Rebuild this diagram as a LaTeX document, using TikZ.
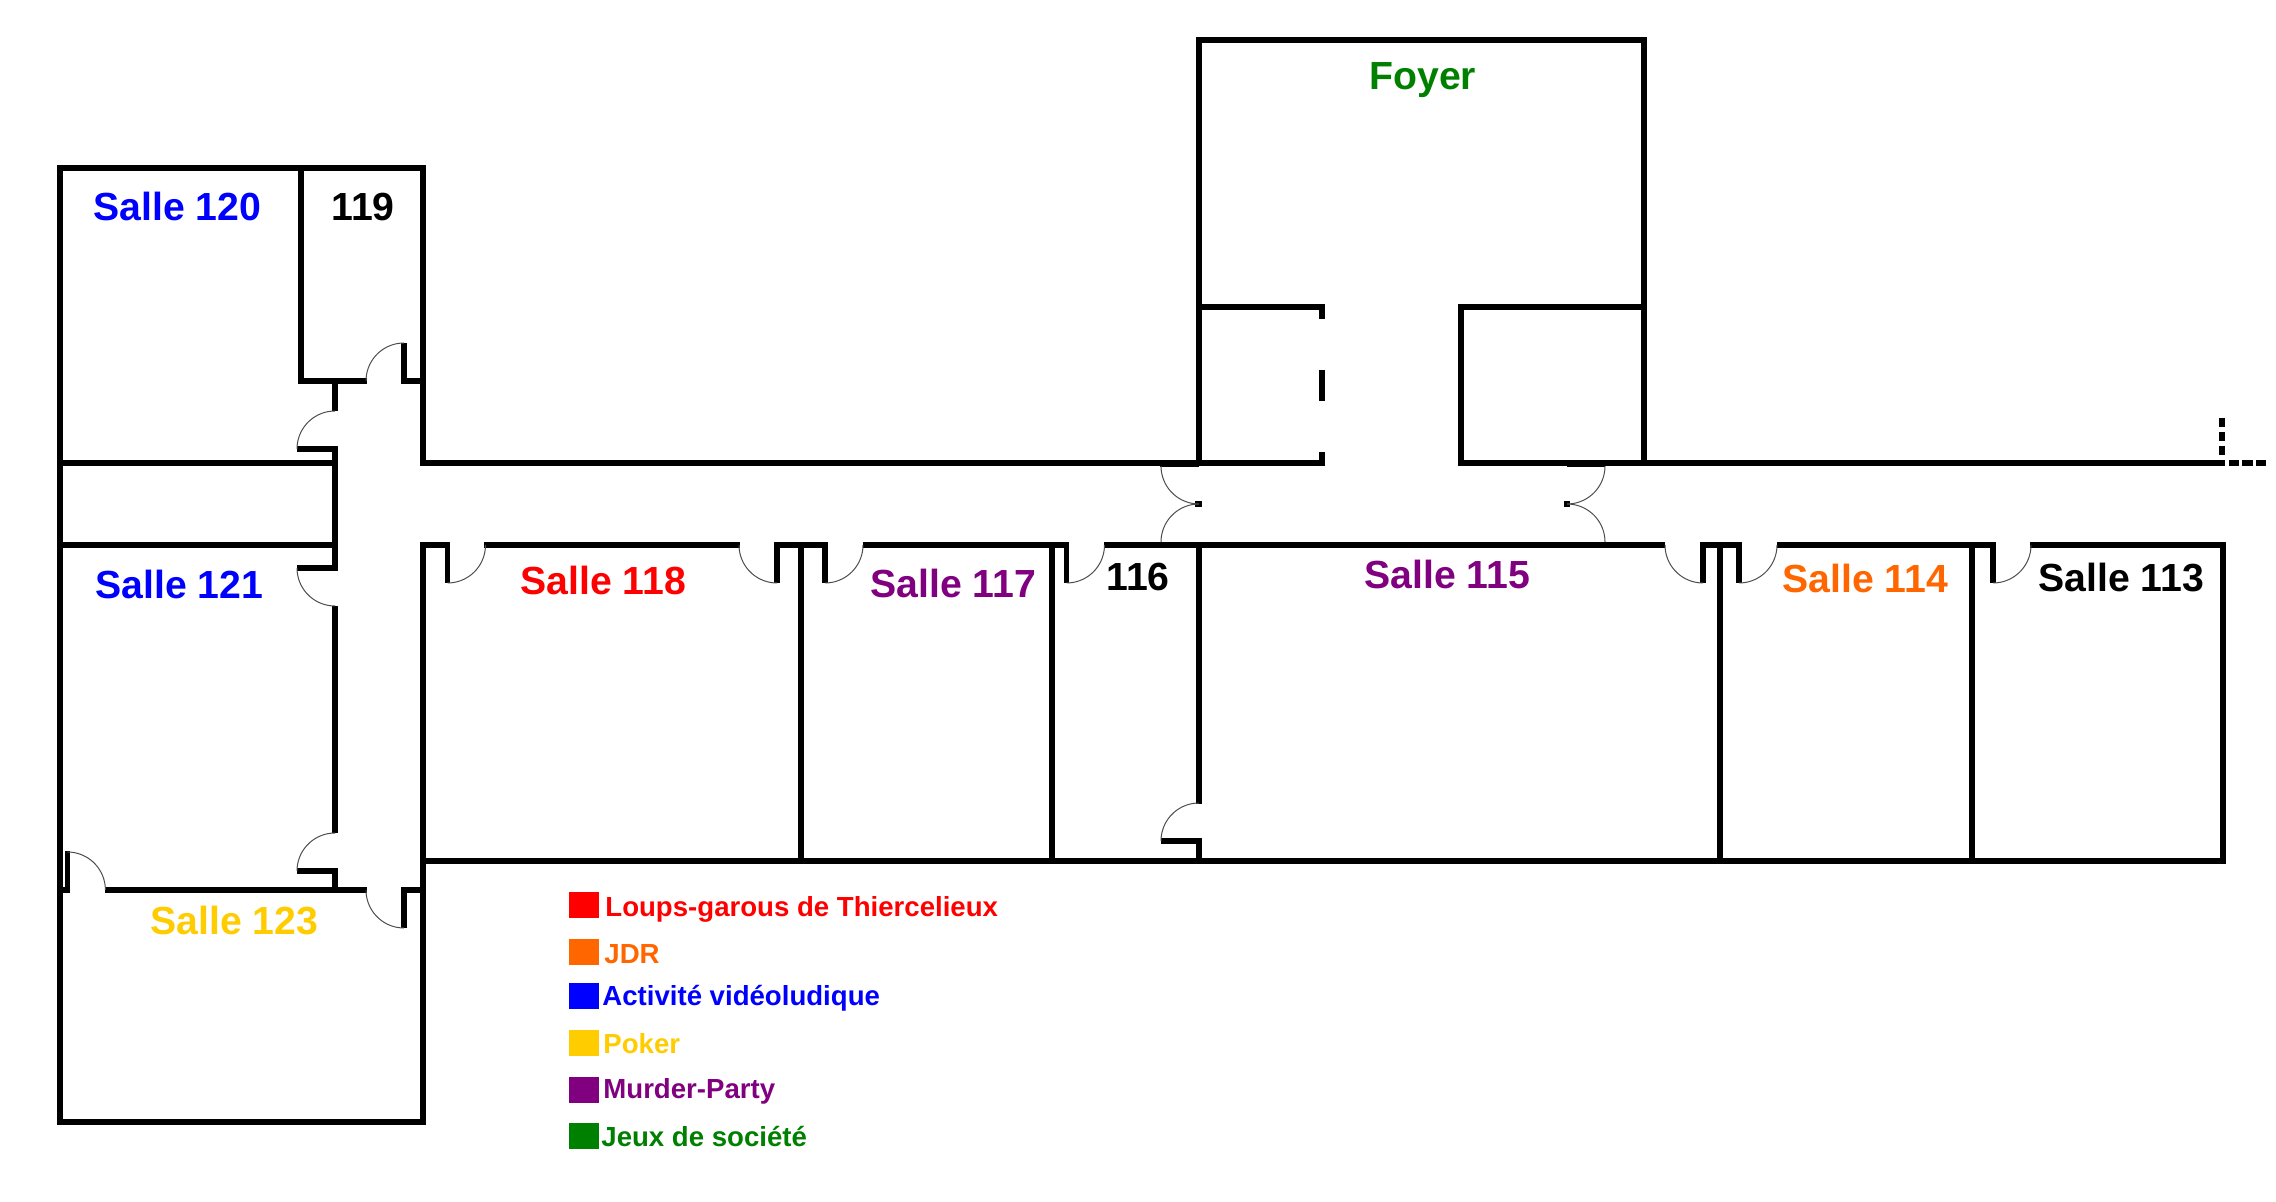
\documentclass[tikz,border=0pt]{standalone}
\usepackage{fontspec}
\setmainfont{Liberation Sans}
\definecolor{loups}{HTML}{FF0000}
\definecolor{jdr}{HTML}{FF6600}
\definecolor{video}{HTML}{0000FF}
\definecolor{poker}{HTML}{FFCC00}
\definecolor{murder}{HTML}{800080}
\definecolor{jeux}{HTML}{008000}
\tikzset{
  wall/.style={line width=2.75pt,line join=miter},
  swing/.style={line width=0.5pt,black!70,samples=24},
  roomname/.style={anchor=base west,inner sep=0pt,font=\bfseries\fontsize{19.6}{24}\selectfont},
  keyname/.style={anchor=base west,inner sep=0pt,font=\bfseries\fontsize{13.8}{16}\selectfont},
}

\begin{document}
\begin{tikzpicture}[x=0.5pt,y=-0.5pt]
\useasboundingbox (0,0) rectangle (2276,1202);
% door radius
\pgfmathsetmacro{\R}{38}

% outer walls
\draw[wall] (447.5,583) -- (447.5,545) -- (423,545) -- (423,1122) -- (60,1122) -- (60,168) -- (423,168) -- (423,463) -- (1322,463) -- (1322,452);
\draw[wall] (1199,463) -- (1199,40) -- (1644,40) -- (1644,463);
\draw[wall] (1644,307) -- (1461,307) -- (1461,463) -- (2225,463);

% rooms 119 to 123
\draw[wall] (366.6,381) -- (301,381) -- (301,168);
\draw[wall] (404,343) -- (404,381) -- (423,381);
\draw[wall] (335,381) -- (335,411);
\draw[wall] (297,449) -- (335,449) -- (335,568) -- (297,568);
\draw[wall] (335,606) -- (335,833);
\draw[wall] (297,871) -- (335,871) -- (335,890);
\draw[wall] (60,463) -- (335,463);
\draw[wall] (60,545) -- (335,545);
\draw[wall] (60,890) -- (67.4,890) -- (67.4,851);
\draw[wall] (105,890) -- (366.6,890);
\draw[wall] (404,928) -- (404,890) -- (423,890);

% corridor, south side
\draw[wall] (484,545) -- (740,545);
\draw[wall] (777,583) -- (777,545) -- (825,545) -- (825,583);
\draw[wall] (863,545) -- (1066.5,545) -- (1066.5,583);
\draw[wall] (1104,545) -- (1665,545);
\draw[wall] (1703,583) -- (1703,545) -- (1739,545) -- (1739,583);
\draw[wall] (1777,545) -- (1993,545) -- (1993,583);
\draw[wall] (2030,545) -- (2223,545) -- (2223,861) -- (423,861);
\foreach \xw in {801,1052,1720,1972}
  \draw[wall] (\xw,545) -- (\xw,861);
\draw[wall] (1199,545) -- (1199,804);
\draw[wall] (1161,841) -- (1199,841) -- (1199,861);

% hall
\draw[wall] (1199,307) -- (1322,307) -- (1322,319);
\draw[wall] (1322,370) -- (1322,401);

% double door frames
\foreach \xa/\xb in {1160/1199,1567/1605} {
  \draw[wall] (\xa,464) -- (\xb,464);
  \draw[wall] (\xa,544.5) -- (\xb,544.5);
}
\draw[wall] (1195,504) -- (1202,504);
\draw[wall] (1564,504) -- (1570,504);

% building goes on
\draw[wall,dash pattern=on 4.7pt off 2.3pt] (2222,418) -- (2222,457);
\draw[wall,dash pattern=on 5.2pt off 1.5pt] (2229,463) -- (2268,463);

% doors
\foreach \cx/\cy/\from/\to in {
  404/381/180/270, 335/449/180/270, 335/568/90/180, 335/871/180/270,
  67.4/890/270/360, 404/890/90/180, 447.5/545/0/90, 777/545/90/180,
  825/545/0/90, 1066.5/545/0/90, 1703/545/90/180, 1739/545/0/90,
  1993/545/0/90, 1199/466/90/180, 1199/542/180/270, 1567/466/0/90,
  1567/542/270/360, 1199/841/180/270}
  \draw[swing,domain=\from:\to] plot ({\cx+\R*cos(\x)},{\cy+\R*sin(\x)});

% room names
\node[roomname,video] (s120) at (93,221) {Salle 120};
\node[roomname] (s119) at (331,221) {119};
\node[roomname,video] (s121) at (95,599) {Salle 121};
\node[roomname,loups] (s118) at (520,595) {Salle 118};
\node[roomname,murder] (s117) at (870,598) {Salle 117};
\node[roomname] (s116) at (1106,591) {116};
\node[roomname,murder] (s115) at (1364,589) {Salle 115};
\node[roomname,jdr] (s114) at (1782,593) {Salle 114};
\node[roomname] (s113) at (2038,592) {Salle 113};
\node[roomname,poker] (s123) at (150,935) {Salle 123};
\node[roomname,jeux] (foyer) at (1369,90) {Foyer};

% legend
\foreach \n/\c/\ytop/\xt/\ybase/\txt in {
  1/loups/892/605/916/Loups-garous de Thiercelieux,
  2/jdr/939/604/963/JDR,
  3/video/983/602/1005/Activité vidéoludique,
  4/poker/1030/603/1053/Poker,
  5/murder/1077/603/1098/Murder-Party,
  6/jeux/1123/601/1146/Jeux de société} {
  \fill[\c] (569,\ytop) rectangle (599,\ytop+26);
  \node[keyname,\c] (key\n) at (\xt,\ybase) {\txt};
}
\end{tikzpicture}
\end{document}
